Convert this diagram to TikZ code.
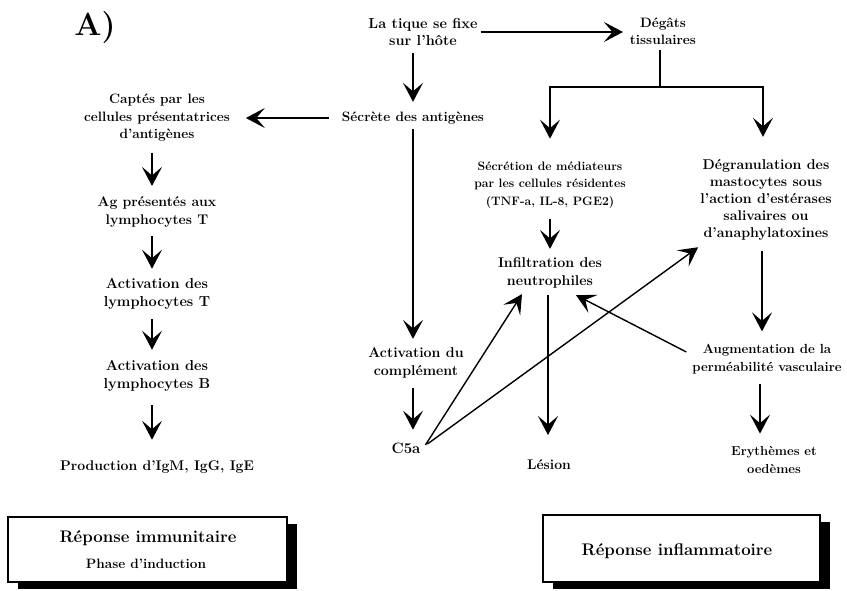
\documentclass[tikz,border=0pt]{standalone}
\usepackage{fontspec}
\usetikzlibrary{arrows.meta,shadows,calc}
\begin{document}
\begin{tikzpicture}[x=1pt,y=-1pt,
  txt/.style={align=center,inner sep=0pt,outer sep=0pt,font=\bfseries\fontsize{#1}{17.5}\selectfont},
  txt/.default=13.6,
  arr/.style={line width=1.4pt,-{Stealth[length=19pt,width=20pt,inset=8.5pt]}},
  ln/.style={line width=1.4pt},
  resbox/.style={draw,line width=1.1pt,fill=white,inner sep=0pt,
    drop shadow={shadow xshift=10pt,shadow yshift=-7pt,fill=black,opacity=1}},
  boxtitle/.style={inner sep=0pt,font=\bfseries\fontsize{16.8}{18}\selectfont},
  boxsub/.style={inner sep=0pt,font=\bfseries\fontsize{13.6}{15}\selectfont}]
\useasboundingbox (0,0) rectangle (847,590);

% panel label
\node[inner sep=0pt,font=\bfseries\fontsize{32}{32}\selectfont] (panel) at (95,28) {A)};

% top of the cascade
\node[txt=14.5] (tique) at (423,32) {La tique se fixe\\sur l'hôte};
\node[txt] (degats) at (663,31) {Dégâts\\tissulaires};
\node[txt] (secrete) at (413,118) {Sécrète des antigènes};

% immune branch
\node[txt] (captes) at (157,118) {Captés par les\\cellules présentatrices\\d'antigènes};
\node[txt=14] (agpres) at (157,212) {Ag présentés aux\\lymphocytes T};
\node[txt=14.5] (actT) at (157,294) {Activation des\\lymphocytes T};
\node[txt=14.5] (actB) at (157,376) {Activation des\\lymphocytes B};
\node[txt=14] (prod) at (157,467) {Production d'IgM, IgG, IgE};

% inflammatory branch
\node[txt=12.2] (secmed) at (550,185) {Sécrétion de médiateurs\\par les cellules résidentes\\(TNF-a, IL-8, PGE2)};
\node[align=center,inner sep=0pt,font=\bfseries\fontsize{14.2}{16.8}\selectfont] (degran) at (766,200) {Dégranulation des\\mastocytes sous\\l'action d'estérases\\salivaires ou\\d'anaphylatoxines};
\node[txt=14.2] (infil) at (550,273) {Infiltration des\\neutrophiles};
\node[txt=14.2] (compl) at (416,363) {Activation du\\complément};
\node[txt=13.2] (augm) at (767,359) {Augmentation de la\\perméabilité vasculaire};
\node[txt=15] (c5a) at (406,448) {C5a};
\node[txt=14] (lesion) at (549,465) {Lésion};
\node[txt=13] (eryth) at (774,460) {Erythèmes et\\oedèmes};

% summary boxes with solid shadows
\node[resbox,minimum width=279pt,minimum height=65pt] (imm) at (147.5,549.5) {};
\node[boxtitle] (immtitle) at (148,538) {Réponse immunitaire};
\node[boxsub] (immsub) at (146,564) {Phase d'induction};
\node[resbox,minimum width=277pt,minimum height=67pt] (infl) at (681.5,548.5) {};
\node[boxtitle] (infltitle) at (677,551) {Réponse inflammatoire};

% connectors
\draw[arr,shorten <=3pt,shorten >=7pt] (tique.east) -- (degats.west |- tique.east);
\coordinate (jn) at (660,87);
\draw[ln,shorten <=5pt] (degats.south -| jn) -- (jn);
\draw[arr,shorten >=23pt] (jn) -| (secmed.north);
\draw[arr,shorten >=23pt] (jn) -| (degran.north -| 763,0);

\draw[arr,shorten <=7pt,shorten >=10pt] (secrete.north |- tique.south) -- (secrete.north);
\draw[arr,shorten <=13pt,shorten >=16pt] (secrete.west) -- (captes.east);
\draw[arr,shorten <=5pt,shorten >=9pt] (secrete.south) -- (compl.north -| secrete.south);
\draw[arr,shorten <=10pt,shorten >=13pt] (compl.south -| secrete.south) -- (c5a.north -| secrete.south);

\draw[arr,shorten <=11pt,shorten >=11pt] (captes.south -| 152,0) -- (agpres.north -| 152,0);
\draw[arr,shorten <=9pt,shorten >=10pt] (agpres.south -| 152,0) -- (actT.north -| 152,0);
\draw[arr,shorten <=10pt,shorten >=11pt] (actT.south -| 152,0) -- (actB.north -| 152,0);
\draw[arr,shorten <=14pt,shorten >=21pt] (actB.south -| 152,0) -- (prod.north -| 152,0);

\draw[arr,shorten <=11pt,shorten >=9pt] (secmed.south) -- (infil.north -| secmed.south);
\draw[arr,shorten <=7pt,shorten >=25pt] (infil.south -| 548,0) -- (lesion.north -| 548,0);
\draw[arr,shorten <=11pt,shorten >=13pt] (degran.south -| 762,0) -- (augm.north -| 762,0);
\draw[arr,shorten <=10pt,shorten >=13pt] (augm.south -| 760,0) -- (eryth.north -| 760,0);

\draw[arr] ($(c5a.east)+(5,-3)$) -- ($(infil.south)+(-28,6)$);
\draw[arr] ($(c5a.east)+(7,-4)$) -- ($(degran.south west)+(-2,7)$);
\draw[arr] ($(augm.west)+(-6,-7)$) -- ($(infil.south)+(26,7)$);
\end{tikzpicture}
\end{document}
